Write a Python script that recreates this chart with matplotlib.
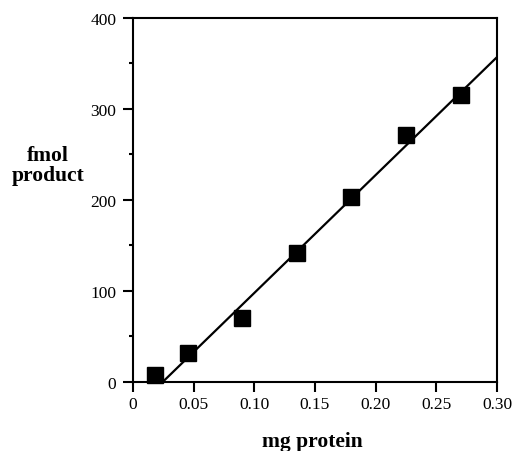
import numpy as np
import matplotlib
matplotlib.use('Agg')
import matplotlib.pyplot as plt
from matplotlib.ticker import MultipleLocator

# values
protein_mg = [0.018, 0.045, 0.090, 0.135, 0.180, 0.225, 0.270]
product_fmol = [8, 32, 70, 142, 203, 271, 315]

# fitted line
fit_slope = 1297.0
fit_intercept = -32.0

x_ticks = [0, 0.05, 0.10, 0.15, 0.20, 0.25, 0.30]
x_tick_labels = ['0', '0.05', '0.10', '0.15', '0.20', '0.25', '0.30']
y_ticks = [0, 100, 200, 300, 400]

plt.rcParams['font.family'] = ['Liberation Serif', 'DejaVu Serif']

fig = plt.figure(figsize=(5.13, 4.52), dpi=100)
ax = fig.add_axes([0.259, 0.153, 0.710, 0.805])

x_start = -fit_intercept / fit_slope
x_line = np.array([x_start, 0.30])
ax.plot(x_line, fit_slope * x_line + fit_intercept, color='black', lw=1.6, zorder=2)
ax.plot(protein_mg, product_fmol, linestyle='none', marker='s', markersize=12,
        color='black', zorder=3, clip_on=False)

ax.set_xlim(0, 0.30)
ax.set_ylim(0, 400)
ax.set_xticks(x_ticks)
ax.set_xticklabels(x_tick_labels)
ax.set_yticks(y_ticks)
ax.yaxis.set_minor_locator(MultipleLocator(50))

for s in ax.spines.values():
    s.set_linewidth(1.5)
ax.tick_params(axis='both', which='major', direction='out', length=7, width=1.5,
               labelsize=12.5)
ax.tick_params(axis='x', which='major', pad=3)
ax.tick_params(axis='y', which='major', pad=5)
ax.tick_params(axis='y', which='minor', direction='out', length=3, width=1.5)

fig.text(48 / 513, 1 - 166 / 452, 'fmol\nproduct', ha='center', va='center',
         fontsize=15.5, fontweight='bold', linespacing=1.0)
fig.text(312 / 513, 1 - 442 / 452, 'mg protein', ha='center', va='center',
         fontsize=15.5, fontweight='bold')

fig.savefig('out.png', dpi=100)
